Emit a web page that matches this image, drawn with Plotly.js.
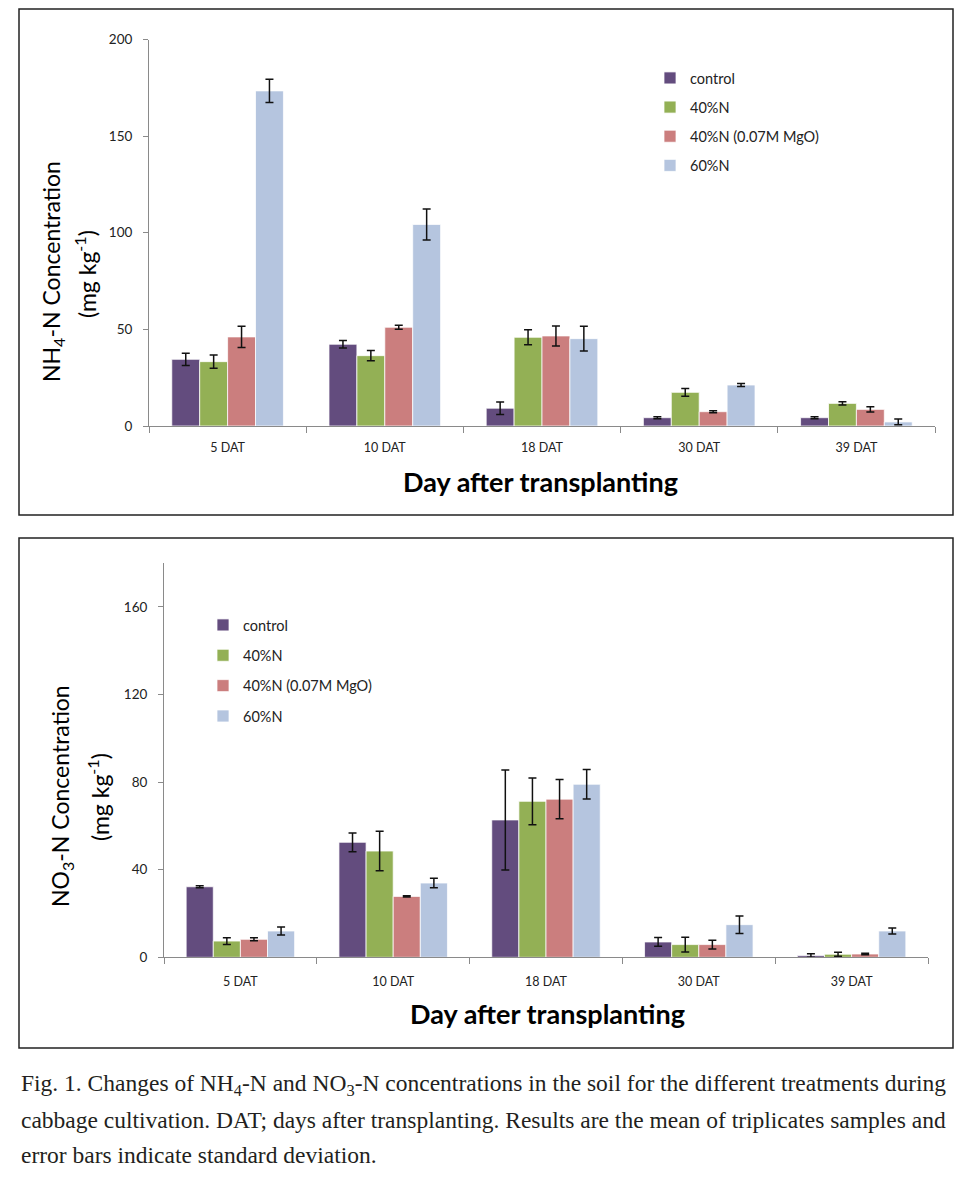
<!DOCTYPE html>
<html>
<head>
<meta charset="utf-8">
<script src="https://cdn.plot.ly/plotly-3.0.1.min.js"></script>
<style>html,body{margin:0;padding:0;background:#fff;}#chart{width:969px;height:1178px;}</style>
</head>
<body>
<div id="chart"></div>
<script>
// ---- data ----
const categories = ['5 DAT', '10 DAT', '18 DAT', '30 DAT', '39 DAT'];
const seriesNames = ['control', '40%N', '40%N (0.07M MgO)', '60%N'];

const nh4_control    = [34.5, 42.3, 9.2, 4.3, 4.3];
const nh4_control_sd = [3.2, 2.0, 3.2, 0.5, 0.5];
const nh4_40N        = [33.3, 36.4, 45.9, 17.4, 11.7];
const nh4_40N_sd     = [3.4, 2.7, 3.9, 2.0, 0.8];
const nh4_mgo        = [46.1, 51.1, 46.6, 7.4, 8.6];
const nh4_mgo_sd     = [5.5, 1.0, 5.2, 0.5, 1.3];
const nh4_60N        = [173.4, 104.3, 45.2, 21.2, 2.1];
const nh4_60N_sd     = [6.0, 8.0, 6.4, 0.8, 1.5];

const no3_control    = [32.2, 52.5, 62.7, 7.0, 0.8];
const no3_control_sd = [0.5, 4.3, 22.8, 2.0, 0.8];
const no3_40N        = [7.4, 48.5, 71.2, 5.8, 1.4];
const no3_40N_sd     = [1.5, 9.0, 10.7, 3.4, 0.9];
const no3_mgo        = [8.2, 27.8, 72.2, 5.8, 1.5];
const no3_mgo_sd     = [0.7, 0.3, 9.0, 2.0, 0.3];
const no3_60N        = [12.0, 33.9, 79.0, 14.9, 12.0];
const no3_60N_sd     = [1.8, 2.2, 6.7, 4.0, 1.4];

const nh4Ticks = [0, 50, 100, 150, 200];
const no3Ticks = [0, 40, 80, 120, 160];

// ---- styling ----
const colors = ['#634C7E', '#93B055', '#CB7E7E', '#B5C5DF'];
const W = 969, H = 1178;
const px = v => v / W;
const py = v => 1 - v / H;
const FONT = 'Lato, "Open Sans", sans-serif';

const nh4Vals = [nh4_control, nh4_40N, nh4_mgo, nh4_60N];
const nh4Sds  = [nh4_control_sd, nh4_40N_sd, nh4_mgo_sd, nh4_60N_sd];
const no3Vals = [no3_control, no3_40N, no3_mgo, no3_60N];
const no3Sds  = [no3_control_sd, no3_40N_sd, no3_mgo_sd, no3_60N_sd];

const traces = [];
function addSet(vals, sds, xa, ya, leg, grp) {
  vals.forEach((v, i) => {
    traces.push({
      type: 'bar', x: categories, y: v, name: seriesNames[i],
      xaxis: xa, yaxis: ya, legend: leg, legendgroup: grp + i,
      marker: {color: colors[i], line: {color: 'rgba(255,255,255,0.75)', width: 1}},
      error_y: {type: 'data', array: sds[i], visible: true, color: '#111', thickness: 1.5, width: 4},
      hoverinfo: 'skip'
    });
  });
}
addSet(nh4Vals, nh4Sds, 'x', 'y', 'legend', 'a');
addSet(no3Vals, no3Sds, 'x2', 'y2', 'legend2', 'b');

const xCommon = {
  type: 'category', tickson: 'boundaries', ticks: 'outside', ticklen: 6, tickcolor: '#8a8a8a',
  showline: true, linecolor: '#8a8a8a', linewidth: 1, showgrid: false, zeroline: false,
  tickfont: {family: FONT, size: 12.5, color: '#222'}, fixedrange: true
};
const yCommon = {
  ticks: 'outside', ticklen: 5, tickcolor: '#8a8a8a', showline: true, linecolor: '#8a8a8a',
  linewidth: 1, showgrid: false, zeroline: false, tickmode: 'array',
  tickfont: {family: FONT, size: 13.5, color: '#222'}, ticklabelstandoff: 8, fixedrange: true
};

const legendCommon = {
  font: {family: FONT, size: 14.5, color: '#222'}, bgcolor: 'rgba(0,0,0,0)',
  traceorder: 'grouped', xanchor: 'left', yanchor: 'top', itemwidth: 30
};

const ann = [];
function A(text, x, y, o) {
  ann.push(Object.assign({text, x: px(x), y: py(y), xref: 'paper', yref: 'paper', showarrow: false,
    xanchor: 'center', yanchor: 'middle'}, o || {}));
}
const titleFont = {family: FONT, size: 27, color: '#000', weight: 'bold'};
const yTitleFont = {family: FONT, size: 23, color: '#000'};
A('Day after transplanting', 540, 481, {font: titleFont});
A('Day after transplanting', 547, 1013, {font: titleFont});
A('NH<sub>4</sub>-N Concentration', 53, 272, {textangle: -90, font: yTitleFont});
A('(mg kg<sup>-1</sup>)', 86, 274, {textangle: -90, font: yTitleFont});
A('NO<sub>3</sub>-N Concentration', 61, 796, {textangle: -90, font: yTitleFont});
A('(mg kg<sup>-1</sup>)', 98, 797, {textangle: -90, font: yTitleFont});

const capFont = {family: '"Liberation Serif", "DejaVu Serif", serif', size: 23.5, color: '#231f20'};
A('Fig. 1. Changes of NH<sub>4</sub>-N and NO<sub>3</sub>-N concentrations in the soil for the different treatments during', 19, 1085, {xanchor: 'left', font: capFont});
A('cabbage cultivation. DAT; days after transplanting. Results are the mean of triplicates samples and', 19, 1120, {xanchor: 'left', font: capFont});
A('error bars indicate standard deviation.', 19, 1155, {xanchor: 'left', font: capFont});

const layout = {
  width: W, height: H, margin: {l: 0, r: 0, t: 0, b: 0},
  paper_bgcolor: '#fff', plot_bgcolor: '#fff',
  barmode: 'group', bargap: 0.29, bargroupgap: 0,
  xaxis: Object.assign({}, xCommon, {domain: [px(149), px(935)], anchor: 'y', ticklabelstandoff: 10}),
  yaxis: Object.assign({}, yCommon, {domain: [py(426), py(39.5)], range: [0, 200], tickvals: nh4Ticks, anchor: 'x'}),
  xaxis2: Object.assign({}, xCommon, {domain: [px(164), px(928)], anchor: 'y2', ticklabelstandoff: 13}),
  yaxis2: Object.assign({}, yCommon, {domain: [py(957.3), py(563)], range: [0, 180], tickvals: no3Ticks, anchor: 'x2'}),
  legend: Object.assign({}, legendCommon, {x: px(650), y: py(62), tracegroupgap: 7.3}),
  legend2: Object.assign({}, legendCommon, {x: px(203), y: py(609), tracegroupgap: 8.5}),
  shapes: [
    {type: 'rect', xref: 'paper', yref: 'paper', x0: px(19), x1: px(953), y0: py(515), y1: py(9), line: {color: '#222', width: 1.5}},
    {type: 'rect', xref: 'paper', yref: 'paper', x0: px(19), x1: px(953), y0: py(1048), y1: py(538), line: {color: '#222', width: 1.5}}
  ],
  annotations: ann
};

Plotly.newPlot('chart', traces, layout, {displayModeBar: false, staticPlot: true});
</script>
</body>
</html>
